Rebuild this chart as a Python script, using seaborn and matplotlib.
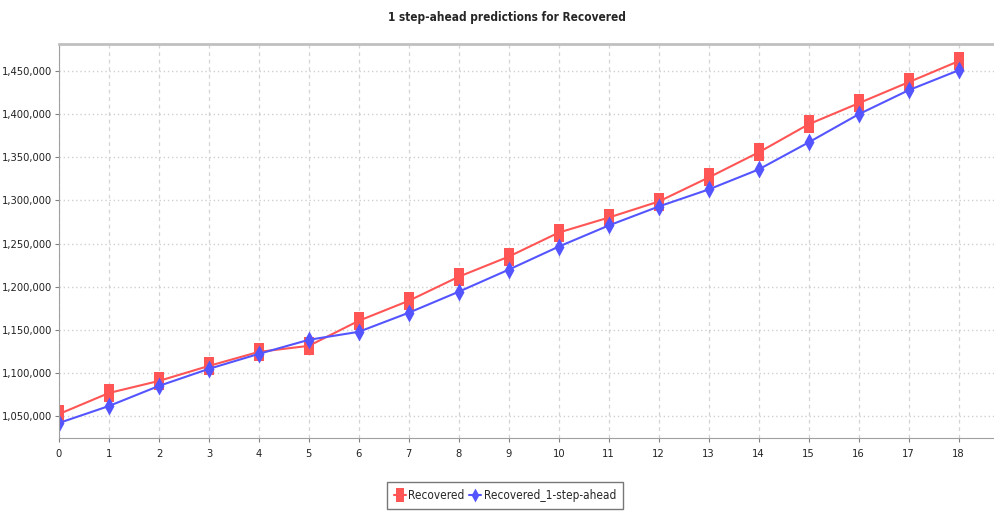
import numpy as np
import pandas as pd
import seaborn as sns
import matplotlib.pyplot as plt
from matplotlib.ticker import FuncFormatter

steps = list(range(19))
recovered = [1052300, 1076700, 1090700, 1108100, 1124400, 1131400, 1160500,
             1183700, 1211600, 1234900, 1262800, 1280200, 1298800, 1326700,
             1355800, 1388400, 1412800, 1437200, 1461600]
recovered_ahead = [1041900, 1061600, 1084900, 1104700, 1122100, 1138400, 1147700,
                   1169800, 1194200, 1219800, 1246500, 1271000, 1293000, 1312800,
                   1336000, 1367400, 1400000, 1427900, 1451000]
series_names = ["Recovered", "Recovered_1-step-ahead"]

df = pd.DataFrame({
    "step": steps * 2,
    "value": recovered + recovered_ahead,
    "series": [series_names[0]] * len(steps) + [series_names[1]] * len(steps),
})

sns.set_style("white")
plt.rcParams["font.family"] = ["DejaVu Sans"]
plt.rcParams["font.stretch"] = "condensed"

fig = plt.figure(figsize=(9.94, 5.21), dpi=100)
ax = fig.add_axes([59 / 994, 1 - 438 / 521, 1 - 59 / 994, (438 - 44) / 521])

# narrow tall rectangle and diamond, like the stretched JFreeChart shapes
rect = [(-0.55, -1), (0.55, -1), (0.55, 1), (-0.55, 1), (-0.55, -1)]
diamond = [(0, -1), (0.55, 0), (0, 1), (-0.55, 0), (0, -1)]

sns.lineplot(data=df, x="step", y="value", hue="series", style="series",
             palette={"Recovered": "#ff5555", "Recovered_1-step-ahead": "#5555ff"},
             markers={"Recovered": rect, "Recovered_1-step-ahead": diamond},
             dashes=False, markersize=13, markeredgewidth=0, linewidth=1.5,
             ax=ax, legend=True)

ax.set_xlim(0, 18.71)
ax.set_ylim(1024480, 1481550)
ax.set_xticks(steps)
ax.set_yticks(np.arange(1050000, 1450001, 50000))
ax.yaxis.set_major_formatter(FuncFormatter(lambda v, p: f"{int(v):,}"))
ax.set_xlabel("")
ax.set_ylabel("")

ax.grid(True, axis="x", color="#d4d4d4", linestyle=(0, (3, 3)), linewidth=0.9)
ax.grid(True, axis="y", color="#cfcfcf", linestyle=(0, (1, 2)), linewidth=1.0)
ax.set_axisbelow(True)

for s in ["left", "bottom", "top"]:
    ax.spines[s].set_color("#a0a0a0")
ax.spines["top"].set_color("#c0c0c0")
ax.spines["top"].set_linewidth(2)
ax.spines["right"].set_visible(False)
ax.tick_params(axis="both", direction="out", length=3, color="#808080",
               labelsize=8, labelcolor="#222222", pad=2, left=True, bottom=True)
ax.tick_params(axis="x", pad=5)

fig.text(0.510, 1 - 18 / 521, "1 step-ahead predictions for Recovered",
         ha="center", va="center", fontsize=8.5, fontweight="bold")

leg = ax.legend(loc="upper center", bbox_to_anchor=(0.477, -0.097), ncol=2,
                frameon=True, fontsize=8.5, handlelength=1.0, handletextpad=0.2,
                columnspacing=0.4, borderpad=0.6, fancybox=False)
leg.get_frame().set_edgecolor("#555555")
leg.get_frame().set_linewidth(1.0)
for h in leg.legend_handles:
    h.set_markersize(10)

fig.savefig("out.png", dpi=100)
